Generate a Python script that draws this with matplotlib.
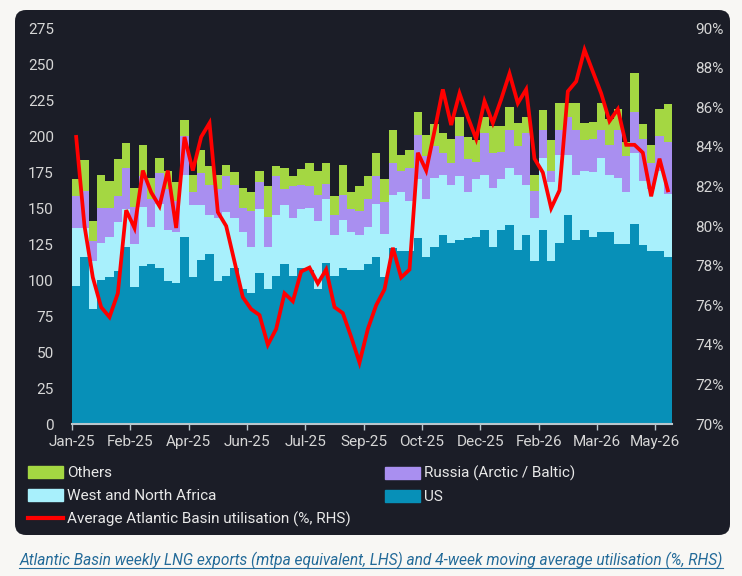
import matplotlib
matplotlib.use("Agg")
import matplotlib.pyplot as plt
from matplotlib.patches import FancyBboxPatch, Patch
from matplotlib.lines import Line2D
from matplotlib.transforms import IdentityTransform
import numpy as np

plt.rcParams['font.family'] = ['Roboto', 'DejaVu Sans']

# weekly exports, mtpa equivalent (stack segments)
us = [96, 116, 80, 100, 102, 106, 123, 95, 110, 111, 108, 99, 98, 130, 102, 114, 118, 99,
      103, 108, 94, 91, 105, 94, 103, 111, 103, 108, 107, 94, 112, 103, 108, 107, 107, 111,
      116, 102, 122, 120, 120, 129, 116, 123, 131, 126, 128, 129, 130, 135, 123, 135, 138, 121,
      131, 113, 135, 113, 126, 145, 128, 135, 130, 133, 133, 125, 125, 139, 124, 120, 120, 116]
wna = [40, 20, 33, 26, 28, 34, 26, 30, 41, 26, 45, 36, 35, 43, 50, 38, 27, 44,
       44, 35, 39, 32, 44, 29, 42, 41, 40, 41, 43, 47, 44, 28, 34, 26, 24, 26,
       37, 30, 37, 41, 35, 41, 40, 48, 42, 40, 44, 32, 40, 38, 41, 35, 40, 52,
       35, 30, 50, 55, 61, 42, 45, 41, 45, 52, 40, 46, 36, 49, 45, 43, 56, 44]
russia = [22, 26, 14, 24, 20, 18, 29, 26, 21, 19, 21, 28, 22, 27, 9, 22, 21, 20,
          25, 23, 17, 25, 19, 21, 27, 11, 22, 17, 15, 18, 11, 14, 17, 16, 17, 19,
          19, 22, 22, 15, 23, 31, 30, 22, 15, 15, 28, 23, 12, 29, 24, 19, 26, 20,
          36, 19, 19, 8, 17, 26, 31, 21, 23, 19, 21, 33, 25, 29, 29, 18, 24, 36]
others = [12, 21, 14, 23, 19, 26, 17, 13, 22, 15, 11, 13, 13, 11, 12, 16, 13, 10,
          8, 9, 14, 13, 8, 21, 7, 15, 7, 11, 16, 17, 14, 13, 21, 12, 17, 16,
          16, 16, 23, 11, 12, 16, 15, 15, 14, 17, 13, 15, 15, 11, 19, 18, 16, 16,
          11, 11, 14, 21, 19, 10, 19, 12, 12, 19, 18, 15, 10, 27, 10, 13, 19, 26]

# 4-week moving average utilisation, %
util = [84.5, 80.0, 77.4, 75.9, 75.4, 76.6, 80.8, 79.9, 82.8, 81.7, 81.0, 82.8, 79.9, 84.5,
        82.8, 84.5, 85.2, 80.7, 80.0, 78.2, 76.4, 75.8, 75.5, 74.0, 74.8, 76.6, 76.2, 77.7,
        77.9, 77.1, 77.8, 75.9, 75.6, 74.4, 73.1, 74.8, 76.0, 76.8, 78.9, 77.4, 77.8, 83.7,
        82.8, 84.8, 86.9, 85.1, 86.7, 85.5, 84.4, 86.3, 85.2, 86.4, 87.7, 86.2, 86.9, 83.4,
        82.7, 80.9, 81.8, 86.8, 87.3, 88.9, 87.8, 86.7, 85.3, 85.9, 84.1, 84.1, 83.7, 81.5,
        83.4, 81.8]

tick_labels = ["Jan-25", "Feb-25", "Apr-25", "Jun-25", "Jul-25", "Sep-25",
               "Oct-25", "Dec-25", "Feb-26", "Mar-26", "May-26"]
tick_step = 7

C_US = "#0790b8"
C_WNA = "#a8f0fc"
C_RU = "#a98ff0"
C_OT = "#a4d742"
C_LINE = "#ff0000"
CARD = "#1b1d27"
TXT = "#d6d6d6"

W, H = 742, 576
fig = plt.figure(figsize=(W / 100, H / 100), dpi=100)
fig.patch.set_facecolor("#f8f7f4")

card = FancyBboxPatch((15, H - 535), 715, 525, boxstyle="round,pad=0,rounding_size=11",
                      transform=IdentityTransform(), facecolor=CARD, edgecolor="none", zorder=-5)
fig.add_artist(card)

ax = fig.add_axes([72 / W, 1 - 424 / H, 600 / W, 396 / H])
ax.set_facecolor("none")

x = np.arange(len(us))
b1 = np.array(us)
b2 = b1 + np.array(wna)
b3 = b2 + np.array(russia)
ax.bar(x, us, width=1.0, color=C_US, linewidth=0)
ax.bar(x, wna, width=1.0, bottom=b1, color=C_WNA, linewidth=0)
ax.bar(x, russia, width=1.0, bottom=b2, color=C_RU, linewidth=0)
ax.bar(x, others, width=1.0, bottom=b3, color=C_OT, linewidth=0)

ax.set_xlim(-0.5, len(us) - 0.5)
ax.set_ylim(0, 275)
ax.set_yticks(range(0, 276, 25))
ax.set_xticks(np.arange(0, len(us), tick_step) - 0.5)
ax.set_xticklabels(tick_labels)

for s in ["top", "right", "left"]:
    ax.spines[s].set_visible(False)
ax.spines["bottom"].set_color("#b9c6cc")
ax.spines["bottom"].set_linewidth(1.5)
ax.spines["bottom"].set_zorder(5)
ax.tick_params(axis="y", length=0, pad=13, labelsize=11, labelcolor=TXT)
ax.tick_params(axis="x", length=4, width=1, color="#b9c6cc", pad=4, labelsize=11,
               labelcolor=TXT, direction="out")

ax2 = ax.twinx()
ax2.plot(x, util, color=C_LINE, linewidth=2.7, solid_joinstyle="miter", zorder=4)
ax2.set_ylim(70, 90)
ax2.set_yticks(range(70, 91, 2))
ax2.set_yticklabels([f"{v}%" for v in range(70, 91, 2)])
for s in ["top", "right", "left", "bottom"]:
    ax2.spines[s].set_visible(False)
ax2.tick_params(axis="y", length=0, pad=17, labelsize=11, labelcolor=TXT)

leg_kw = dict(loc="upper left", frameon=False, borderaxespad=0, borderpad=0,
              handlelength=2.3, handleheight=0.85, handletextpad=0.25,
              labelspacing=0.56, fontsize=11, labelcolor="#e8e8e8")
h_ot = Patch(color=C_OT, label="Others")
h_wna = Patch(color=C_WNA, label="West and North Africa")
h_line = Line2D([], [], color=C_LINE, linewidth=3, label="Average Atlantic Basin utilisation (%, RHS)")
h_ru = Patch(color=C_RU, label="Russia (Arctic / Baltic)")
h_us = Patch(color=C_US, label="US")
fig.legend(handles=[h_ot, h_wna, h_line], bbox_to_anchor=(28 / W, 1 - 466 / H), **leg_kw)
fig.legend(handles=[h_ru, h_us], bbox_to_anchor=(385 / W, 1 - 466 / H), **leg_kw)

cap = fig.text(0.5, 1 - 560 / H,
               "Atlantic Basin weekly LNG exports (mtpa equivalent, LHS) and 4-week moving average utilisation (%, RHS)",
               ha="center", va="center", fontsize=11.2, style="italic", color="#246b99")
fig.canvas.draw()
bb = cap.get_window_extent()
fig.add_artist(Line2D([bb.x0, bb.x1], [bb.y0 + 1, bb.y0 + 1], transform=IdentityTransform(),
                      color="#246b99", linewidth=0.8))

fig.savefig("out.png", dpi=100, facecolor=fig.get_facecolor())
